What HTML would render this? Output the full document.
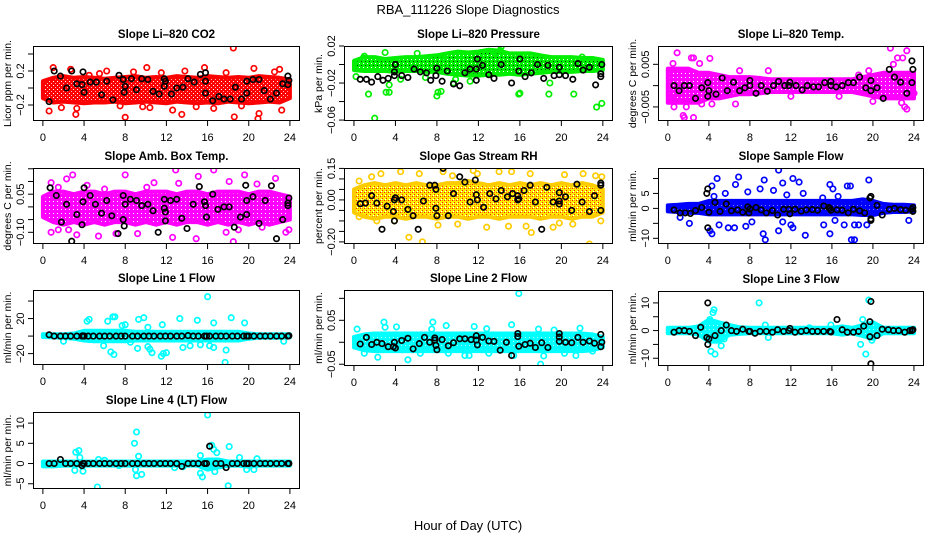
<!DOCTYPE html>
<html><head><meta charset="utf-8"><title>RBA_111226 Slope Diagnostics</title>
<style>
html,body{margin:0;padding:0;background:#fff;}
svg{display:block;font-family:"Liberation Sans",Arial,sans-serif;}
</style></head>
<body>
<svg id="chart" xmlns="http://www.w3.org/2000/svg" width="936" height="540" viewBox="0 0 936 540">
<defs>
<pattern id="pat-red" width="4" height="4" patternUnits="userSpaceOnUse"><rect width="4" height="4" fill="#ff0000"/><rect x="1" y="1" width="1" height="1" fill="#fff"/><rect x="3" y="3" width="1" height="1" fill="#ffb0b0"/></pattern>
<pattern id="pat-green" width="4" height="4" patternUnits="userSpaceOnUse"><rect width="4" height="4" fill="#00ee00"/><rect x="1" y="1" width="1" height="1" fill="#004400"/><rect x="3" y="3" width="1" height="1" fill="#fff"/></pattern>
<pattern id="pat-magenta" width="4" height="4" patternUnits="userSpaceOnUse"><rect width="4" height="4" fill="#ff00ff"/><rect x="1" y="1" width="1" height="1" fill="#fff"/></pattern>
<pattern id="pat-orange" width="4" height="4" patternUnits="userSpaceOnUse"><rect width="4" height="4" fill="#ffee00"/><rect x="0" y="0" width="1" height="1" fill="#ff2000"/><rect x="2" y="2" width="1" height="1" fill="#ff2000"/><rect x="2" y="0" width="1" height="1" fill="#ff8000"/><rect x="1" y="3" width="1" height="1" fill="#fff"/></pattern>
<pattern id="pat-blue" width="4" height="4" patternUnits="userSpaceOnUse"><rect width="4" height="4" fill="#0000ff"/><rect x="1" y="1" width="1" height="1" fill="#8080ff"/></pattern>
<pattern id="pat-cyan" width="4" height="4" patternUnits="userSpaceOnUse"><rect width="4" height="4" fill="#00ffff"/><rect x="1" y="1" width="1" height="1" fill="#b0ffff"/></pattern>
</defs>
<text x="468" y="14" text-anchor="middle" font-size="13">RBA_111226  Slope Diagnostics</text>
<text x="468" y="530" text-anchor="middle" font-size="13">Hour of Day (UTC)</text>
<g id="panels"></g>
</svg>
<script>
// x-axis ticks (hour of day)
const xTicks = [0,4,8,12,16,20,24];

// ---- Panel 1: Li-820 CO2 ----
const co2BandLo = [-0.12,-0.17,-0.16,-0.17,-0.18,-0.17,-0.17,-0.16,-0.18,-0.17,-0.16,-0.17,-0.18,-0.16,-0.17,-0.18,-0.17,-0.18,-0.16,-0.17,-0.18,-0.17,-0.16,-0.17,-0.12];
const co2BandHi = [0.08,0.12,0.14,0.12,0.13,0.12,0.11,0.12,0.13,0.14,0.12,0.13,0.12,0.14,0.13,0.12,0.14,0.13,0.12,0.13,0.12,0.14,0.13,0.12,0.10];
const co2Pts = [[18.5,0.47],[8.0,-0.345],[20.9,-0.36],[18.6,-0.34],[13.5,-0.31],[3.2,-0.31],[0.6,-0.27],[12.6,-0.26],[23.2,-0.26],[1.0,0.24],[2.7,0.22],[6.2,0.20],[10.1,0.24],[15.7,0.24],[20.5,0.23],[23.0,0.22],[9.7,-0.22],[10.4,-0.23],[1.8,-0.23],[3.3,-0.24],[4.5,0.15],[8.8,0.19],[13.8,0.2],[17.8,0.18],[21.0,-0.3],[19.3,-0.21],[16.6,-0.24],[5.5,0.17],[11.5,0.18],[22.5,0.19],[7.5,-0.21],[14.9,-0.22]];
const co2Black = [[0.6,-0.16],[1.1,0.2],[1.7,0.14],[2.3,0.0],[2.8,0.2],[3.3,0.05],[3.8,0.04],[3.9,0.19],[4.0,-0.05],[4.6,0.07],[5.2,0.07],[5.7,-0.08],[6.2,0.08],[6.8,-0.14],[7.4,0.15],[7.8,0.1],[7.9,-0.05],[8.0,0.02],[8.6,0.11],[9.1,-0.02],[9.6,0.11],[10.2,0.1],[10.7,-0.04],[11.3,-0.07],[11.8,0.11],[11.9,0.08],[11.8,0.02],[12.5,-0.07],[13.0,0.0],[13.6,0.01],[14.1,0.11],[14.7,0.07],[15.3,0.16],[15.8,0.18],[15.8,0.08],[15.8,-0.06],[16.5,-0.15],[17.1,-0.1],[17.6,-0.13],[18.2,-0.13],[18.7,0.01],[19.3,-0.13],[19.8,-0.06],[19.8,0.08],[20.4,0.1],[21.0,0.1],[21.5,-0.03],[22.1,-0.13],[22.7,-0.06],[23.3,0.05],[23.8,0.14],[23.8,0.04],[23.9,0.09]];
const co2Ticks = [0.4,0.2,0,-0.2];
const co2Labels = ["","0.2","","-0.2"];

// ---- Panel 2: Li-820 Pressure ----
const presBandLo = [-0.006,-0.007,-0.007,-0.007,-0.008,-0.007,-0.007,-0.008,-0.008,-0.01,-0.011,-0.012,-0.012,-0.011,-0.011,-0.01,-0.011,-0.01,-0.009,-0.008,-0.008,-0.008,-0.007,-0.007,-0.006];
const presBandHi = [0.004,0.008,0.008,0.006,0.007,0.008,0.008,0.009,0.01,0.012,0.014,0.013,0.014,0.016,0.015,0.012,0.012,0.012,0.01,0.008,0.008,0.008,0.007,0.007,0.005];
const presPts = [[2.0,-0.058],[1.4,-0.032],[3.1,-0.030],[3.4,-0.030],[3.4,-0.022],[8.0,-0.034],[8.1,-0.030],[8.4,-0.029],[15.9,-0.032],[16.0,-0.031],[18.8,-0.032],[18.9,-0.020],[21.2,-0.032],[23.4,-0.046],[23.9,-0.042],[0.2,-0.013],[9.8,-0.016],[9.6,-0.02],[14.1,0.015],[14.2,0.019],[13.7,0.013],[1.0,0.009],[3.0,0.013],[6.1,0.012],[8.6,0.009],[10.2,0.01],[12.3,0.013],[16.0,0.01],[0.9,0.007],[22.0,0.008],[4.5,-0.016],[6.9,-0.014],[11.2,-0.018]];
const presBlack = [[0.6,-0.016],[1.2,-0.016],[1.7,-0.019],[2.3,-0.013],[2.8,-0.017],[3.3,-0.015],[3.9,-0.008],[3.9,-0.012],[4.0,0.0],[4.6,-0.012],[5.2,-0.014],[5.8,-0.005],[6.4,-0.008],[7.0,-0.009],[7.4,-0.017],[7.9,-0.012],[8.0,-0.004],[8.5,-0.018],[9.0,-0.007],[9.6,-0.021],[10.2,-0.023],[10.7,-0.009],[11.2,-0.005],[11.8,-0.017],[11.8,-0.005],[11.9,0.006],[12.4,-0.001],[13.0,-0.011],[13.5,-0.015],[14.2,0.0],[15.2,-0.02],[15.9,-0.007],[16.0,0.006],[16.5,-0.013],[17.1,-0.009],[17.7,0.0],[18.3,-0.015],[18.7,-0.001],[19.3,-0.012],[19.8,-0.011],[19.8,-0.003],[20.4,-0.012],[21.1,-0.016],[21.6,0.001],[22.1,-0.006],[22.7,-0.003],[23.3,-0.022],[23.8,-0.01],[23.8,-0.013],[23.9,0.0]];
const presTicks = [0.02,0,-0.02,-0.04,-0.06];
const presLabels = ["0.02","","-0.02","","-0.06"];

// ---- Panel 3: Li-820 Temp ----
const ltBandLo = [-0.004,-0.004,-0.004,-0.004,-0.003,-0.003,-0.0025,-0.002,-0.002,-0.0018,-0.0015,-0.0015,-0.0015,-0.0015,-0.0015,-0.0015,-0.0015,-0.0015,-0.0015,-0.002,-0.0025,-0.003,-0.003,-0.003,-0.003];
const ltBandHi = [0.004,0.004,0.004,0.003,0.003,0.0025,0.002,0.002,0.002,0.0018,0.0015,0.0015,0.0015,0.0015,0.0015,0.0015,0.0015,0.0015,0.0015,0.002,0.0025,0.003,0.003,0.003,0.003];
const ltPts = [[0.9,0.0077],[2.3,0.0065],[2.5,0.0065],[4.1,0.0064],[0.5,0.0052],[3.1,0.0052],[1.5,-0.007],[1.6,-0.0075],[2.5,-0.0075],[0.3,-0.003],[0.6,-0.005],[1.8,-0.005],[3.3,-0.0043],[4.3,-0.0043],[6.6,-0.0043],[21.7,0.0088],[23.3,0.0082],[22.9,0.0065],[22.4,0.0065],[22.0,0.005],[23.1,-0.005],[23.3,-0.0055],[22.8,-0.004],[20.0,-0.0037],[19.6,0.0035],[18.6,0.0025],[24.0,-0.0018],[7.0,0.0035],[9.8,0.0035],[16.7,-0.0025],[12.0,-0.0025]];
const ltBlack = [[0.6,0.0],[1.1,-0.0012],[1.6,0.0],[2.1,0.0],[2.7,-0.003],[3.3,-0.0005],[3.9,0.0007],[3.9,-0.0025],[4.0,-0.0012],[4.7,-0.002],[5.3,0.0018],[5.8,-0.0012],[6.4,0.0008],[7.0,-0.0012],[7.5,-0.0005],[8.0,0.0012],[8.0,0.0],[8.6,-0.0018],[9.1,0.0],[9.7,-0.0013],[10.3,0.0],[10.8,0.001],[11.4,0.0],[11.8,0.0],[11.9,0.0008],[12.5,0.0],[13.1,-0.001],[13.6,0.0],[14.2,-0.0003],[14.7,-0.0003],[15.3,0.0007],[15.9,0.0],[15.9,0.001],[16.4,-0.0003],[17.0,0.0],[17.6,0.0007],[18.1,0.0007],[18.7,0.002],[19.3,-0.0005],[19.8,0.0012],[19.8,-0.0012],[20.4,-0.0005],[21.0,-0.003],[21.6,0.0038],[22.1,0.002],[22.7,0.0008],[23.3,-0.0018],[23.8,0.0058],[23.9,0.0038],[23.8,0.0007]];
const ltTicks = [0.005,0,-0.005];
const ltLabels = ["0.005","","-0.005"];

// ---- Panel 4: Amb. Box Temp ----
const abBandLo = [-0.04,-0.06,-0.07,-0.06,-0.07,-0.06,-0.07,-0.06,-0.06,-0.07,-0.06,-0.07,-0.06,-0.07,-0.06,-0.06,-0.07,-0.06,-0.07,-0.06,-0.07,-0.06,-0.07,-0.06,-0.05];
const abBandHi = [0.04,0.06,0.06,0.05,0.06,0.06,0.05,0.06,0.06,0.05,0.06,0.06,0.06,0.05,0.06,0.06,0.05,0.06,0.06,0.06,0.05,0.06,0.06,0.05,0.04];
const abPts = [[2.9,0.126],[2.3,0.11],[0.8,0.095],[1.5,0.077],[8.0,0.126],[12.9,0.145],[16.6,0.145],[15.1,0.12],[19.6,0.126],[22.6,0.112],[18.1,0.1],[10.8,0.095],[4.3,0.085],[13.2,0.093],[6.0,0.07],[10.1,0.077],[20.8,0.09],[0.8,-0.1],[1.5,-0.09],[2.5,-0.09],[5.4,-0.115],[7.1,-0.105],[9.2,-0.105],[12.6,-0.12],[14.9,-0.125],[18.5,-0.137],[19.0,-0.09],[21.3,-0.08],[23.6,-0.1],[17.8,-0.1],[3.3,-0.11],[23.9,-0.09]];
const abBlack = [[0.7,0.075],[1.3,0.045],[1.8,-0.06],[2.3,0.01],[2.8,-0.135],[3.3,-0.03],[3.8,-0.07],[3.9,0.02],[4.0,0.075],[4.6,0.045],[5.1,0.01],[5.7,-0.025],[6.2,0.025],[6.7,-0.035],[7.3,-0.105],[7.8,0.045],[7.8,-0.05],[7.9,-0.075],[8.0,0.01],[8.5,0.03],[9.1,0.025],[9.6,0.005],[10.2,0.01],[10.7,-0.015],[11.2,-0.1],[11.8,-0.005],[11.8,0.03],[11.9,-0.02],[11.9,-0.055],[12.4,0.025],[13.0,0.03],[13.5,-0.045],[14.0,-0.085],[14.6,0.01],[15.2,0.08],[15.7,0.02],[15.8,0.005],[15.9,-0.04],[16.5,0.05],[17.0,-0.01],[17.6,0.0],[18.1,0.0],[18.6,-0.08],[19.2,-0.04],[19.7,0.085],[19.8,0.025],[19.8,-0.03],[20.4,0.04],[21.0,-0.065],[21.6,0.025],[22.2,0.083],[22.7,-0.125],[23.3,-0.05],[23.8,0.015],[23.8,0.005],[23.9,0.035]];
const abTicks = [0.15,0.1,0.05,0,-0.05,-0.1];
const abLabels = ["","","0.05","","","-0.10"];

// ---- Panel 5: Gas Stream RH ----
const rhBandLo = [-0.06,-0.08,-0.09,-0.08,-0.08,-0.09,-0.08,-0.08,-0.09,-0.08,-0.08,-0.09,-0.08,-0.08,-0.09,-0.08,-0.08,-0.08,-0.09,-0.08,-0.08,-0.09,-0.08,-0.08,-0.06];
const rhBandHi = [0.05,0.07,0.08,0.07,0.08,0.07,0.08,0.07,0.07,0.08,0.08,0.09,0.08,0.07,0.08,0.07,0.08,0.07,0.08,0.07,0.08,0.07,0.08,0.07,0.05];
const rhPts = [[2.6,0.125],[4.5,0.135],[6.3,0.125],[8.6,0.135],[9.5,0.115],[11.5,0.14],[11.9,0.125],[14.0,0.135],[15.2,0.135],[17.0,0.125],[20.3,0.12],[22.1,0.125],[23.3,0.115],[23.9,0.11],[1.7,0.11],[0.5,0.09],[19.8,-0.11],[22.7,-0.21],[17.1,-0.155],[6.6,-0.2],[5.3,-0.178],[3.9,-0.1],[10.0,-0.115],[12.8,-0.13],[14.9,-0.125],[16.6,-0.125],[19.2,-0.13],[21.1,-0.115],[23.8,-0.1],[2.2,-0.1],[0.5,-0.08],[8.1,-0.12]];
const rhBlack = [[0.6,-0.018],[1.1,-0.015],[1.7,0.02],[2.2,-0.015],[2.7,-0.14],[3.2,-0.03],[3.8,-0.055],[3.9,0.0],[4.0,0.01],[3.9,-0.1],[4.6,0.0],[5.2,-0.045],[5.7,-0.075],[6.2,-0.14],[6.7,-0.005],[7.3,0.07],[7.8,0.07],[7.9,0.05],[7.9,-0.04],[8.0,-0.075],[8.6,0.15],[9.1,-0.075],[9.6,0.03],[10.2,0.11],[10.7,0.085],[11.2,-0.01],[11.7,0.095],[11.8,0.025],[11.9,0.0],[12.5,-0.035],[13.1,0.03],[13.7,0.005],[14.2,0.045],[14.8,0.015],[15.3,0.03],[15.8,0.0],[15.8,0.02],[15.9,0.005],[16.4,0.045],[17.0,0.07],[17.5,-0.01],[18.1,-0.14],[18.6,0.06],[19.2,-0.01],[19.8,0.035],[19.8,-0.02],[19.8,-0.005],[20.4,0.015],[21.0,-0.05],[21.5,0.075],[22.0,-0.01],[22.7,-0.055],[23.2,0.02],[23.8,0.07],[23.8,0.08],[23.8,-0.05]];
const rhTicks = [0.15,0.1,0.05,0,-0.05,-0.1,-0.15,-0.2];
const rhLabels = ["0.15","","","0.00","","","","-0.20"];

// ---- Panel 6: Sample Flow ----
const sfBandLo = [-1,-1.2,-1.5,-1.5,-2,-2,-2,-2,-2,-2,-2,-2,-2,-2,-2,-2,-2,-2,-2,-2.2,-2.2,-1.5,-1.2,-1.2,-1];
const sfBandHi = [1,1.2,1.5,1.5,2.5,2.5,2.5,2.5,2.5,2.5,2.5,2.5,2.5,2.5,2.5,2.5,2.5,2.5,2.5,3,2.5,1.5,1.2,1.2,1];
const sfPts = [[10.8,12.8],[4.8,10],[6.9,10.5],[9.4,9.5],[12.2,10],[12.8,8.8],[19.6,9.5],[11.2,8.5],[15.8,8],[16.1,6.5],[17.5,7.5],[17.8,7.5],[6.6,8],[7.8,5.5],[5.6,5],[4.3,7.5],[9.0,6.5],[11.6,4.5],[13.2,5],[15.1,3.5],[16.6,4],[4.5,4],[10.3,6],[2.1,-5],[4.3,-8.5],[4.1,-7.5],[5.0,-5.5],[5.9,-6.5],[6.5,-6.5],[7.6,-6],[9.3,-8.5],[9.5,-10.5],[10.8,-7.5],[12.0,-5.5],[12.2,-6.5],[13.4,-9],[15.2,-5.5],[15.8,-8.5],[16.3,-4],[17.2,-5.5],[17.9,-10.5],[18.2,-10.5],[18.2,-5.5],[18.6,-5.5],[19.4,-5.5],[23.5,-4],[11.2,-4.5],[8.2,-4.5],[1.2,-3]];
const sfBlack = [[0.6,-0.5],[1.2,-1.5],[1.7,-1.5],[2.2,-1.7],[2.7,-0.7],[3.3,0.3],[3.8,5],[3.9,6.5],[3.9,-6.5],[4.0,-1.3],[4.6,2],[5.1,-1],[5.7,1.5],[6.2,-0.8],[6.8,-0.5],[7.3,-1.3],[7.8,0.5],[7.9,-1.5],[8.0,-0.2],[8.6,0.3],[9.1,-0.5],[9.6,-1.5],[10.2,-0.7],[10.7,-2.2],[11.3,-0.3],[11.8,-0.3],[11.9,-1.8],[12.4,-0.3],[13.0,-0.9],[13.5,-0.5],[14.1,-0.4],[14.6,-0.6],[15.2,0.8],[15.7,0.3],[15.8,0.0],[15.9,-0.6],[16.5,-0.5],[17.0,-0.6],[17.6,-1.5],[18.1,-0.3],[18.7,-0.8],[19.2,-1.5],[19.7,3.5],[19.8,4.0],[19.8,-3.5],[19.8,-4.0],[20.4,1],[20.9,-2.2],[21.6,-0.3],[22.1,0.0],[22.7,-0.4],[23.2,-0.6],[23.8,-0.3],[23.9,0.3],[23.9,-1]];
const sfTicks = [10,5,0,-5,-10];
const sfLabels = ["","5","0","","-10"];

// ---- Panel 7: Line 1 Flow ----
const l1BandLo = [-1,-1.5,-2,-3,-5,-6,-6,-6,-6,-5,-5,-5,-5,-5,-5,-5,-5,-5,-5,-5,-3,-2,-2,-2,-1.5];
const l1BandHi = [2,2,2,3,6,6,6,6,6,5,5,5,5,5,5,5,5,5,5,5,3,2,2,2,2];
const l1Pts = [[16.0,45],[17.7,-30],[4.3,17],[4.5,19],[6.8,22],[7.0,22],[9.3,19],[9.8,21],[13.3,20],[15.0,18],[18.3,21],[16.6,15],[19.6,15],[6.3,17],[8.0,13],[7.7,12],[11.6,13],[10.2,10],[6.6,-18],[6.9,-21],[11.5,-23],[11.7,-20],[12.0,-19],[10.4,-15],[10.6,-19],[13.6,-13],[14.3,-11],[15.3,-10],[16.2,-11],[16.6,-13],[17.8,-16],[5.9,-11],[9.2,-14],[2.0,-6],[4.5,-4],[23.4,-6],[8.5,-7],[10.2,-12]];
const flowBlackX = [0.6,1.1,1.7,2.2,2.7,3.3,3.8,3.9,4.0,4.4,4.9,5.5,6.0,6.5,7.1,7.6,8.0,8.7,9.2,9.8,10.3,10.8,11.4,11.9,12.4,13.0,13.5,14.1,14.6,15.1,15.7,15.9,16.2,16.8,17.3,17.8,18.4,18.9,19.5,19.8,20.0,20.5,21.1,21.6,22.1,22.7,23.2,23.8,23.9];
const l1BlackY = [1.5,0,0,0,0,0,0,0.3,0,0,0,0,0,0,0,0,0,0,0,0,0,0,0,0,0,0,0,0.5,0,0,0,0,0,0,0,0,0,0,0,0,0,0,0,0,0,0,0,0,0.3];
const l1Ticks = [40,20,0,-20];
const l1Labels = ["","20","","-20"];

// ---- Panel 8: Line 2 Flow ----
const l2BandLo = [-0.012,-0.018,-0.02,-0.02,-0.02,-0.02,-0.02,-0.02,-0.02,-0.02,-0.02,-0.02,-0.02,-0.02,-0.02,-0.02,-0.02,-0.02,-0.02,-0.02,-0.02,-0.02,-0.02,-0.018,-0.012];
const l2BandHi = [0.012,0.018,0.02,0.02,0.02,0.02,0.02,0.02,0.02,0.02,0.02,0.02,0.02,0.02,0.02,0.02,0.02,0.02,0.02,0.02,0.02,0.02,0.02,0.018,0.012];
const l2Pts = [[15.9,0.111],[2.9,0.046],[7.6,0.046],[15.2,0.04],[3.0,0.034],[4.1,0.035],[8.9,0.038],[11.6,0.036],[17.8,0.03],[19.3,0.028],[21.8,0.032],[0.3,0.03],[7.5,0.03],[12.8,0.031],[2.3,-0.034],[5.2,-0.04],[18.0,-0.05],[18.3,-0.031],[20.3,-0.025],[21.4,-0.03],[10.7,-0.03],[11.1,-0.03],[9.1,-0.025],[6.4,-0.025],[13.0,-0.025],[15.4,-0.03],[1.0,-0.025],[23.0,-0.02]];
const l2Black = [[0.6,-0.004],[1.2,0.011],[1.7,-0.005],[2.2,0.0],[2.7,-0.003],[3.3,-0.01],[3.8,-0.01],[3.9,0.0],[4.0,-0.013],[4.6,0.004],[5.2,0.009],[5.7,-0.015],[6.3,-0.003],[6.8,0.011],[7.3,0.0],[7.8,0.005],[7.8,0.01],[7.9,-0.007],[8.0,-0.017],[8.5,0.006],[9.1,-0.008],[9.6,-0.001],[10.2,0.008],[10.7,0.008],[11.3,0.006],[11.8,0.015],[11.8,0.005],[11.9,-0.006],[12.4,0.011],[13.0,0.003],[13.5,0.002],[14.1,-0.018],[14.7,0.0],[15.2,-0.03],[15.8,0.02],[15.8,0.013],[15.9,-0.009],[16.5,-0.005],[17.0,-0.002],[17.5,-0.012],[18.1,-0.001],[18.7,-0.012],[19.8,0.012],[19.8,0.02],[19.8,0.002],[20.4,0.0],[21.0,-0.001],[21.6,0.011],[22.1,0.0],[22.7,0.003],[23.2,-0.002],[23.8,0.018],[23.9,0.0],[23.8,-0.01]];
const l2Ticks = [0.1,0.05,0,-0.05];
const l2Labels = ["","0.05","","-0.05"];

// ---- Panel 9: Line 3 Flow ----
const l3BandLo = [-1,-1,-1,-1.5,-4,-4,-1.5,-1.2,-1,-1,-1,-1,-1,-1,-1,-1,-1,-1.5,-1,-2,-3,-1,-1,-1,-1];
const l3BandHi = [1,1,1,1.5,4,3,2,1.2,1,1,1,1,1,1,1,1,1,1.5,1,2,3,1,1,1,1];
const l3Pts = [[9.0,16.5],[8.9,10],[4.5,7.5],[4.4,6.5],[4.1,4],[4.2,-7.5],[4.6,-8.5],[5.2,-5.5],[5.5,-3],[9.5,2],[9.8,-2.5],[19.6,11],[18.8,-5],[19.3,-8.5],[19.9,-3.5],[19.0,4],[3.8,-2],[5.6,2],[13.8,1],[15.9,2]];
const l3Black = [[0.6,-0.6],[1.1,0],[1.6,0],[2.1,-0.3],[2.7,-1.8],[3.2,1.2],[3.9,10],[3.8,-2.5],[3.9,-5],[4.0,-3],[4.6,-1.8],[5.2,0],[5.7,2],[6.2,0],[6.7,-0.3],[7.3,0.5],[7.9,-0.3],[8.0,-0.3],[8.5,-1],[9.0,-0.3],[9.6,-0.3],[10.2,-0.6],[10.7,0.3],[11.3,-0.3],[11.8,0],[11.9,0.8],[12.4,-0.6],[13.0,-0.3],[13.5,0],[14.1,-0.3],[14.6,-0.3],[15.2,-0.3],[15.8,-0.3],[15.9,-0.5],[16.5,4],[17.0,0.3],[17.5,-0.6],[18.1,-0.6],[18.6,-0.3],[19.1,1.6],[19.7,3.2],[19.8,10.5],[19.7,-2.2],[19.8,-12],[20.4,-1.8],[20.9,0.5],[21.5,0.3],[22.0,0],[22.5,0],[23.1,-0.6],[23.6,0],[23.8,0],[23.9,0.3]];
const l3Ticks = [10,5,0,-5,-10];
const l3Labels = ["10","","0","","-10"];

// ---- Panel 10: Line 4 (LT) Flow ----
const l4BandLo = [-0.7,-0.7,-0.5,-0.5,-0.5,-0.5,-0.5,-0.5,-0.5,-0.5,-0.5,-0.5,-0.5,-0.5,-0.5,-0.5,-1.5,-1,-0.5,-0.5,-0.8,-0.5,-0.5,-0.5,-0.5];
const l4BandHi = [0.5,0.5,0.5,0.5,0.5,0.5,0.5,0.5,0.5,0.5,0.5,0.5,0.5,0.5,0.5,0.5,1,1,0.5,0.5,0.5,0.5,0.5,0.5,0.5];
const l4Pts = [[16.0,12],[9.1,7.8],[8.9,5],[16.4,4.5],[16.6,3.5],[16.9,2.7],[18.1,4.2],[3.2,2.8],[3.5,3.2],[3.6,1.5],[9.3,1.8],[15.3,2],[18.0,-5.5],[5.3,-5.8],[9.1,-3],[9.6,-2.7],[9.0,-1.5],[3.1,-1.7],[3.9,-1.9],[15.3,-2.4],[15.5,-3.3],[16.7,-2],[19.8,-1.5],[20.5,-1.5],[12.8,-1],[13.6,-0.8],[7.4,-0.5],[19.1,1.5],[20.8,1.2],[5.4,1],[6.0,0.8]];
const l4BlackY = [0,0,1,0,0,0,-0.5,0,0,0,0,0,0,0,0,0,0,0,0,0,0,0,0,0,0,0,-0.7,0,0,0,0,0,4.3,0,0,-1,0,0,0,0,0,0,0,0,0,0,0,0,0];
const l4Ticks = [10,5,0,-5];
const l4Labels = ["10","5","0","-5"];

const NS = "http://www.w3.org/2000/svg";
const root = document.getElementById('panels');
function mk(tag, attrs, parent){
  const e = document.createElementNS(NS, tag);
  for (const k in attrs) e.setAttribute(k, attrs[k]);
  (parent||root).appendChild(e);
  return e;
}
function zip(xs, ys){ return xs.map((x,i)=>[x, ys[i]]); }

const panels = [
  {id:'co2', title:'Slope Li\u2013820 CO2', ylab:'Licor ppm per min.', L:33,R:300,T:46,B:121, yMin:-0.388,yMax:0.494, ticks:co2Ticks, labels:co2Labels, lo:co2BandLo, hi:co2BandHi, pts:co2Pts, black:co2Black, color:'#ff0000', pat:'pat-red'},
  {id:'pressure', title:'Slope Li\u2013820 Pressure', ylab:'kPa per min.', L:344,R:613,T:46,B:121, yMin:-0.061,yMax:0.02, ticks:presTicks, labels:presLabels, lo:presBandLo, hi:presBandHi, pts:presPts, black:presBlack, color:'#00ee00', pat:'pat-green'},
  {id:'li820-temp', title:'Slope Li\u2013820 Temp.', ylab:'degrees C per min.', L:658,R:924,T:46,B:121, yMin:-0.0083,yMax:0.0093, ticks:ltTicks, labels:ltLabels, lo:ltBandLo, hi:ltBandHi, pts:ltPts, black:ltBlack, color:'#ff00ff', pat:'pat-magenta'},
  {id:'amb-box-temp', title:'Slope Amb. Box Temp.', ylab:'degrees C per min.', L:33,R:300,T:168,B:244, yMin:-0.146,yMax:0.153, ticks:abTicks, labels:abLabels, lo:abBandLo, hi:abBandHi, pts:abPts, black:abBlack, color:'#ff00ff', pat:'pat-magenta'},
  {id:'gas-stream-rh', title:'Slope Gas Stream RH', ylab:'percent per min.', L:344,R:613,T:168,B:244, yMin:-0.21,yMax:0.152, ticks:rhTicks, labels:rhLabels, lo:rhBandLo, hi:rhBandHi, pts:rhPts, black:rhBlack, color:'#ffcc00', pat:'pat-orange'},
  {id:'sample-flow', title:'Slope Sample Flow', ylab:'ml/min per min.', L:658,R:924,T:168,B:244, yMin:-11.9,yMax:13.5, ticks:sfTicks, labels:sfLabels, lo:sfBandLo, hi:sfBandHi, pts:sfPts, black:sfBlack, color:'#0000ff', pat:'pat-blue'},
  {id:'line1-flow', title:'Slope Line 1 Flow', ylab:'ml/min per min.', L:33,R:300,T:290,B:365, yMin:-33,yMax:52.6, ticks:l1Ticks, labels:l1Labels, lo:l1BandLo, hi:l1BandHi, pts:l1Pts, black:zip(flowBlackX,l1BlackY), color:'#00ffff', pat:'pat-cyan'},
  {id:'line2-flow', title:'Slope Line 2 Flow', ylab:'ml/min per min.', L:344,R:613,T:290,B:366, yMin:-0.054,yMax:0.119, ticks:l2Ticks, labels:l2Labels, lo:l2BandLo, hi:l2BandHi, pts:l2Pts, black:l2Black, color:'#00ffff', pat:'pat-cyan'},
  {id:'line3-flow', title:'Slope Line 3 Flow', ylab:'ml/min per min.', L:658,R:924,T:291,B:366, yMin:-12.8,yMax:14.3, ticks:l3Ticks, labels:l3Labels, lo:l3BandLo, hi:l3BandHi, pts:l3Pts, black:l3Black, color:'#00ffff', pat:'pat-cyan'},
  {id:'line4-flow', title:'Slope Line 4 (LT) Flow', ylab:'ml/min per min.', L:33,R:300,T:412,B:489, yMin:-6.3,yMax:12.75, ticks:l4Ticks, labels:l4Labels, lo:l4BandLo, hi:l4BandHi, pts:l4Pts, black:zip(flowBlackX,l4BlackY), color:'#00ffff', pat:'pat-cyan'}
];

panels.forEach(p => {
  const g = mk('g', {});
  
  
  const xMin = -0.96, xMax = 24.98;
  const sx = v => p.L + (v - xMin) / (xMax - xMin) * (p.R - p.L);
  const sy = v => p.B - (v - p.yMin) / (p.yMax - p.yMin) * (p.B - p.T);
  const clipId = 'clip-' + p.id;
  const cp = mk('clipPath', {id: clipId}, g);
  mk('rect', {x:p.L, y:p.T, width:p.R-p.L, height:p.B-p.T}, cp);
  const plot = mk('g', {'clip-path':'url(#'+clipId+')'}, g);
  // band of dense points
  let d = '';
  p.hi.forEach((v,i)=>{ d += (i?'L':'M') + sx(i).toFixed(1) + ',' + sy(v).toFixed(1); });
  for (let i = p.lo.length-1; i >= 0; i--) d += 'L' + sx(i).toFixed(1) + ',' + sy(p.lo[i]).toFixed(1);
  const band = mk('path', {d: d + 'Z', fill:'url(#'+p.pat+')', stroke:p.color, 'stroke-width':4, 'stroke-linejoin':'round'}, plot);
  
  
  p.pts.forEach(pt => {
    const c = mk('circle', {cx:sx(pt[0]).toFixed(1), cy:sy(pt[1]).toFixed(1), r:2.7, fill:'none', stroke:p.color, 'stroke-width':1.7}, plot);
    
    
  });
  p.black.forEach(pt => {
    const c = mk('circle', {cx:sx(pt[0]).toFixed(1), cy:sy(pt[1]).toFixed(1), r:2.7, fill:'none', stroke:'#000', 'stroke-width':1.7}, plot);
    
    
  });
  // box
  const box = mk('rect', {x:p.L+0.5, y:p.T+0.5, width:p.R-p.L-1, height:p.B-p.T-1, fill:'none', stroke:'#000', 'stroke-width':1}, g);
  
  
  // title
  const t = mk('text', {x:(p.L+p.R)/2, y:p.T-8, 'text-anchor':'middle', 'font-size':11.5, 'font-weight':'bold'}, g);
  t.textContent = p.title;
  
  
  // x ticks
  xTicks.forEach(v => {
    const x = sx(v);
    mk('line', {x1:x, y1:p.B, x2:x, y2:p.B+5, stroke:'#000', 'stroke-width':1}, g);
    const tl = mk('text', {x:x, y:p.B+20, 'text-anchor':'middle', 'font-size':11}, g);
    tl.textContent = v;
    
    
  });
  // y ticks
  p.ticks.forEach((v,i) => {
    const y = sy(v);
    mk('line', {x1:p.L-5, y1:y, x2:p.L, y2:y, stroke:'#000', 'stroke-width':1}, g);
    if (p.labels[i]) {
      const tl = mk('text', {x:p.L-9, y:y, 'text-anchor':'middle', 'font-size':11, transform:'rotate(-90 '+(p.L-9)+' '+y+')'}, g);
      tl.textContent = p.labels[i].replace('-', '\u2212');
      
      
    }
  });
  // y label
  const yc = (p.T+p.B)/2, xl = p.L-22;
  const yl = mk('text', {x:xl, y:yc, 'text-anchor':'middle', 'font-size':10.5, transform:'rotate(-90 '+xl+' '+yc+')'}, g);
  yl.textContent = p.ylab;
  
  
});
</script>
</body></html>
